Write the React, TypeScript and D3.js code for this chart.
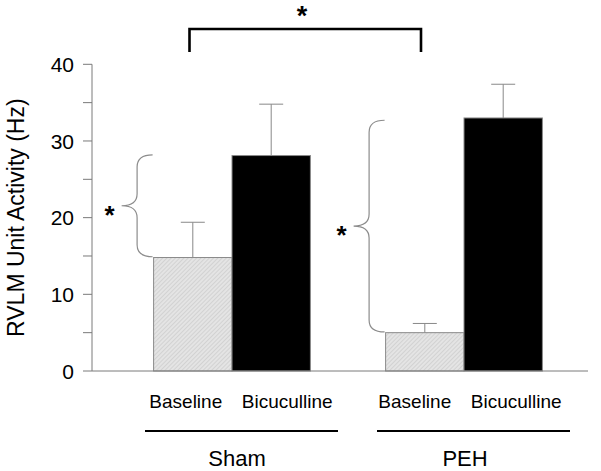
import React from "react";
import * as d3 from "d3";

const groups = ["Sham", "PEH"];
const conditions = ["Baseline", "Bicuculline"];
const means = [
  [14.8, 28.1],
  [5.0, 33.0],
];
const errors = [
  [4.6, 6.7],
  [1.2, 4.4],
];
const yTicks = [0, 10, 20, 30, 40];
const yMinorTicks = [5, 15, 25, 35];
// braces: [lower value, upper value] per group
const braceRanges = [
  [14.9, 28.2],
  [5.1, 32.7],
];

const W = 601;
const H = 471;
const FONT = "Arial, 'Liberation Sans', Helvetica, sans-serif";

export default function App() {
  const y = d3.scaleLinear().domain([0, 40]).range([371, 64.3]);
  const gx = d3.scalePoint<string>().domain(groups).range([232, 464]);
  const inner = d3.scaleBand<string>().domain(conditions).range([-78.4, 78.4]).padding(0);
  const bw = inner.bandwidth();
  const axisX = 92;
  const labelShift = [
    [-7, 16],
    [-10, 13],
  ];
  const groupShift = [5, 1];

  const bracePath = (xEnd: number, xV: number, xTip: number, yTop: number, yBot: number) => {
    const yMid = (yTop + yBot) / 2;
    const r = 12;
    const p = d3.path();
    p.moveTo(xEnd, yTop);
    p.quadraticCurveTo(xV, yTop, xV, yTop + r);
    p.lineTo(xV, yMid - r);
    p.quadraticCurveTo(xV, yMid, xTip, yMid);
    p.quadraticCurveTo(xV, yMid, xV, yMid + r);
    p.lineTo(xV, yBot - r);
    p.quadraticCurveTo(xV, yBot, xEnd, yBot);
    return p.toString();
  };

  return (
    <svg width={W} height={H} style={{ position: "absolute", left: 0, top: 0, background: "#fff" }}>
      <defs>
        <pattern id="hatch" patternUnits="userSpaceOnUse" width="3" height="3" patternTransform="rotate(45)">
          <rect width="3" height="3" fill="#e4e4e4" />
          <line x1="0" y1="0" x2="0" y2="3" stroke="#bcbcbc" strokeWidth="0.9" />
        </pattern>
      </defs>

      {/* y axis */}
      <line x1={axisX} x2={axisX} y1={y(0)} y2={y(40)} stroke="#7a7a7a" strokeWidth={1} />
      {yTicks.map((t) => (
        <g key={"t" + t}>
          <line x1={axisX - 9} x2={axisX} y1={y(t)} y2={y(t)} stroke="#7a7a7a" strokeWidth={1} />
          <text x={74} y={y(t)} dy="0.36em" textAnchor="end" fontFamily={FONT} fontSize={21} fill="#000">
            {t}
          </text>
        </g>
      ))}
      {yMinorTicks.map((t) => (
        <line key={"m" + t} x1={axisX - 9} x2={axisX} y1={y(t)} y2={y(t)} stroke="#7a7a7a" strokeWidth={1} />
      ))}
      <text
        transform={`translate(24,${(y(0) + y(40)) / 2}) rotate(-90)`}
        textAnchor="middle"
        fontFamily={FONT}
        fontSize={23}
        fill="#000"
      >
        RVLM Unit Activity (Hz)
      </text>

      {/* bars */}
      {groups.map((g, gi) =>
        conditions.map((c, ci) => {
          const x0 = (gx(g) as number) + (inner(c) as number);
          const v = means[gi][ci];
          const e = errors[gi][ci];
          const cx = x0 + bw / 2;
          return (
            <g key={g + c}>
              <line x1={cx} x2={cx} y1={y(v)} y2={y(v + e)} stroke="#888" strokeWidth={1} />
              <line x1={cx - 12} x2={cx + 12} y1={y(v + e)} y2={y(v + e)} stroke="#888" strokeWidth={1} />
              <rect
                x={x0}
                y={y(v)}
                width={bw}
                height={y(0) - y(v)}
                fill={ci === 0 ? "url(#hatch)" : "#000"}
                stroke="#8a8a8a"
                strokeWidth={1}
              />
            </g>
          );
        })
      )}

      {/* x baseline */}
      <line x1={axisX} x2={588} y1={y(0)} y2={y(0)} stroke="#7a7a7a" strokeWidth={1} />

      {/* braces */}
      {groups.map((g, gi) => {
        const xb = (gx(g) as number) + (inner("Baseline") as number);
        const yTop = y(braceRanges[gi][1]);
        const yBot = y(braceRanges[gi][0]);
        const yMid = (yTop + yBot) / 2;
        return (
          <g key={"b" + g}>
            <path d={bracePath(xb - 1, xb - 16.5, xb - 32, yTop, yBot)} fill="none" stroke="#8c8c8c" strokeWidth={1.2} />
            <text x={xb - 44} y={yMid + 18} textAnchor="middle" fontFamily={FONT} fontWeight="bold" fontSize={26} fill="#000">
              *
            </text>
          </g>
        );
      })}

      {/* top bracket */}
      <path d="M189.5,52V29H421V52" fill="none" stroke="#000" strokeWidth={2.6} />
      <text x={302} y={25} textAnchor="middle" fontFamily={FONT} fontWeight="bold" fontSize={27} fill="#000">
        *
      </text>

      {/* category labels */}
      {groups.map((g, gi) =>
        conditions.map((c, ci) => {
          const cx = (gx(g) as number) + (inner(c) as number) + bw / 2;
          return (
            <text key={"l" + g + c} x={cx + labelShift[gi][ci]} y={408} textAnchor="middle" fontFamily={FONT} fontSize={19} fill="#000">
              {c}
            </text>
          );
        })
      )}
      {groups.map((g, gi) => {
        const cx = gx(g) as number;
        return (
          <g key={"u" + g}>
            <line x1={cx - 87} x2={cx + 106} y1={431} y2={431} stroke="#000" strokeWidth={2.2} />
            <text x={cx + groupShift[gi]} y={466} textAnchor="middle" fontFamily={FONT} fontSize={22} fill="#000">
              {g}
            </text>
          </g>
        );
      })}
    </svg>
  );
}
